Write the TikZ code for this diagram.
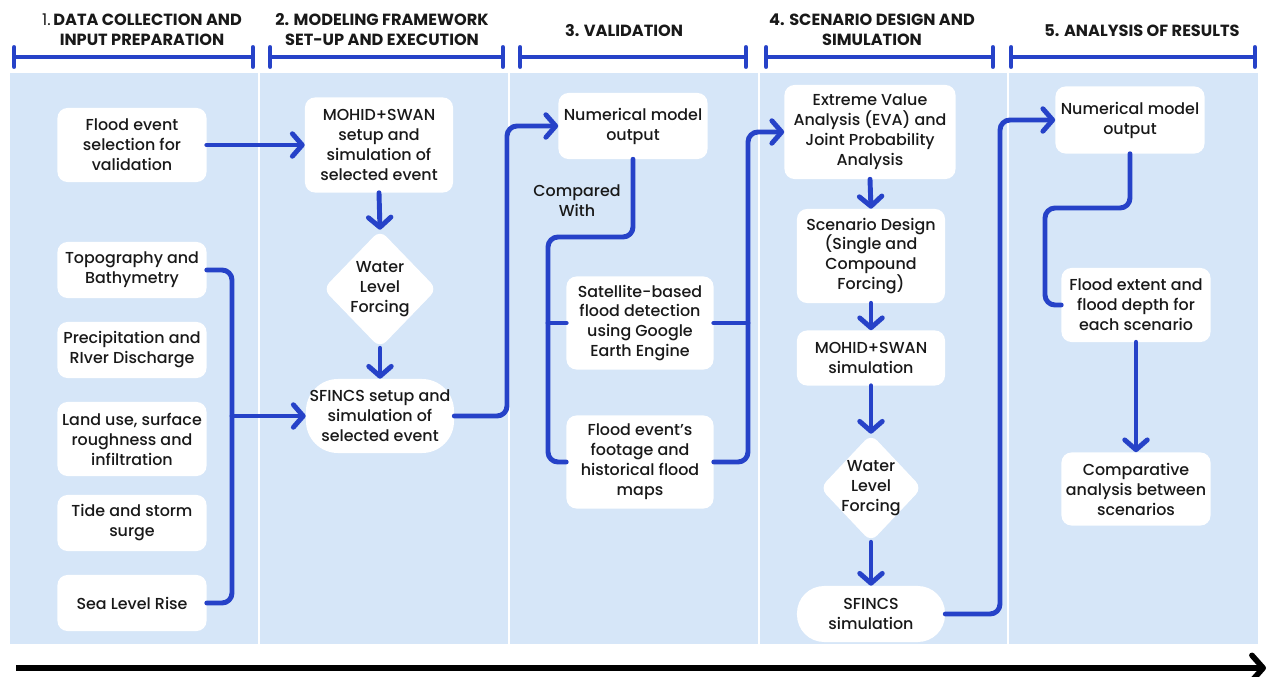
\documentclass[tikz,border=0pt]{standalone}
\usepackage{fontspec}
\setmainfont{Poppins}
\newfontfamily\boxfont{Poppins Medium}
\usepackage{xcolor}
\usetikzlibrary{arrows.meta, shapes.geometric}

\definecolor{flowblue}{RGB}{38,66,200}
\definecolor{panelblue}{RGB}{214,230,248}

\begin{document}
\begin{tikzpicture}[
    x=0.025cm, y=-0.025cm,
    % Text and box styles
    txt/.style={font=\boxfont\fontsize{11.3}{14.2}\selectfont, align=center, text=black!90},
    stepbox/.style={txt, fill=white, rounded corners=0.25cm, minimum width=3.725cm, inner sep=2pt},
    pillbox/.style={stepbox, rounded corners=0.8cm},
    decision/.style={txt, diamond, fill=white, rounded corners=0.22cm, inner sep=-6pt},
    header/.style={font=\fontsize{11.5}{14.2}\selectfont\bfseries, align=center, text=black!90},
    % Connector styles
    link/.style={draw=flowblue, line width=3.5pt, rounded corners=0.25cm, line cap=round},
    flow/.style={link, -{Straight Barb[length=7pt, width=16pt, line cap=round, line join=round]}},
    phasebar/.style={draw=flowblue, line width=3pt, {Bar[width=14pt, line cap=round]}-{Bar[width=14pt, line cap=round]}},
]
\useasboundingbox (0,0) rectangle (1272,677);

% Background panel and column separators
\fill[panelblue] (10,73) rectangle (1258,644);
\foreach \sx in {259,509,759,1008} {
    \draw[white, line width=0.8pt] (\sx,73) -- (\sx,644);
}

% Phase headers with bars
\node[header] (hdr1) at (142,30) {{\mdseries 1.}\,DATA COLLECTION AND\\INPUT PREPARATION};
\node[header] (hdr2) at (382,30) {2. MODELING FRAMEWORK\\SET-UP AND EXECUTION};
\node[header] (hdr3) at (624,31) {3. VALIDATION};
\node[header] (hdr4) at (872,30) {4. SCENARIO DESIGN AND\\SIMULATION};
\node[header] (hdr5) at (1142,31) {5. ANALYSIS OF RESULTS};
\foreach \xa/\xb in {12/255, 268/505, 518/748, 764/995, 1009/1257} {
    \draw[phasebar] (\xa,57) -- (\xb,57);
}

% Column 1: data collection
\node[stepbox, minimum height=1.85cm] (flood) at (132,145) {Flood event\\selection for\\validation};
\node[stepbox, minimum height=1.4cm] (topo) at (132,270) {Topography and\\Bathymetry};
\node[stepbox, minimum height=1.4cm] (precip) at (132,350) {Precipitation and\\RIver Discharge};
\node[stepbox, minimum height=1.85cm] (landuse) at (132,439) {Land use, surface\\roughness and\\infiltration};
\node[stepbox, minimum height=1.4cm] (tide) at (132,523) {Tide and storm\\surge};
\node[stepbox, minimum height=1.4cm] (sealevel) at (132,603) {Sea Level Rise};

% Column 2: model set-up
\node[stepbox, minimum width=3.7cm, minimum height=2.375cm] (mohid1) at (379,145) {MOHID+SWAN\\setup and\\simulation of\\selected event};
\node[decision, minimum width=2.85cm, minimum height=2.95cm] (wlf1) at (380,289) {Water\\Level\\Forcing};
\node[pillbox, minimum width=3.7cm, minimum height=1.85cm] (sfincs1) at (380,416) {SFINCS setup and\\simulation of\\selected event};

% Column 3: validation
\node[stepbox, minimum height=1.65cm] (num1) at (633,126) {Numerical model\\output};
\node[txt] (cmp) at (577,201) {Compared\\With};
\node[stepbox, minimum width=3.675cm, minimum height=2.325cm] (sat) at (640,323) {Satellite-based\\flood detection\\using Google\\Earth Engine};
\node[stepbox, minimum width=3.675cm, minimum height=2.325cm] (foot) at (640,462) {Flood event’s\\footage and\\historical flood\\maps};

% Column 4: scenarios
\node[stepbox, minimum width=4.275cm, minimum height=2.35cm] (eva) at (870,132) {Extreme Value\\Analysis (EVA) and\\Joint Probability\\Analysis};
\node[stepbox, minimum width=3.7cm, minimum height=2.35cm] (scen) at (871,256) {Scenario Design\\(Single and\\Compound\\Forcing)};
\node[stepbox, minimum width=3.7cm, minimum height=1.375cm] (mohid2) at (871,358) {MOHID+SWAN\\simulation};
\node[decision, minimum width=2.55cm, minimum height=2.7cm] (wlf2) at (871,488) {Water\\Level\\Forcing};
\node[pillbox, rounded corners=0.68cm, minimum width=3.7cm, minimum height=1.4cm] (sfsim) at (871,614) {SFINCS\\simulation};

% Column 5: results
\node[stepbox, minimum height=1.675cm] (num2) at (1130,120) {Numerical model\\output};
\node[stepbox, minimum height=1.85cm] (ext) at (1136,305) {Flood extent and\\flood depth for\\each scenario};
\node[stepbox, minimum height=1.825cm] (comp) at (1136,489) {Comparative\\analysis between\\scenarios};

% Bus lines
\coordinate (busA) at (232,0);
\coordinate (busB) at (507,0);
\coordinate (busC) at (548,0);
\coordinate (busD) at (748,0);
\coordinate (busE) at (1000,0);
\coordinate (busF) at (1045,0);
\coordinate (cmpY) at (0,237);
\coordinate (extY) at (0,208);

% Connections
\draw[flow] (flood.east) -- (mohid1.west);
\draw[flow] (mohid1.south) -- (wlf1.north);
\draw[flow] (wlf1.south) -- (sfincs1.north);
\draw[link] (topo.east) -| (busA |- sealevel.east) -- (sealevel.east);
\draw[flow] (busA |- sfincs1.west) -- (sfincs1.west);
\draw[flow] (sfincs1.east) -| (busB |- num1.west) -- (num1.west);

\draw[link] (num1.south) -- (num1.south |- cmpY) -| (busC |- foot.west) -- (foot.west);
\draw[link] (busC |- sat.west) -- (sat.west);
\draw[link] (sat.east) -- (busD |- sat.east);
\draw[flow] (foot.east) -| (busD |- eva.west) -- (eva.west);

\draw[flow] (eva.south) -- (scen.north);
\draw[flow] (scen.south) -- (mohid2.north);
\draw[flow] (mohid2.south) -- (wlf2.north);
\draw[flow] (wlf2.south) -- (sfsim.north);
\draw[flow] (sfsim.east) -| (busE |- num2.west) -- (num2.west);

\draw[link] (num2.south) -- (num2.south |- extY) -| (busF |- ext.west) -- (ext.west);
\draw[flow] (ext.south) -- (comp.north);

% Time axis
\coordinate (tstart) at (16,668);
\coordinate (tend) at (1266,668);
\draw[line width=4pt, -{Straight Barb[length=8pt, width=18pt, line cap=round, line join=round]}] (tstart) -- (tend);

\end{tikzpicture}
\end{document}
